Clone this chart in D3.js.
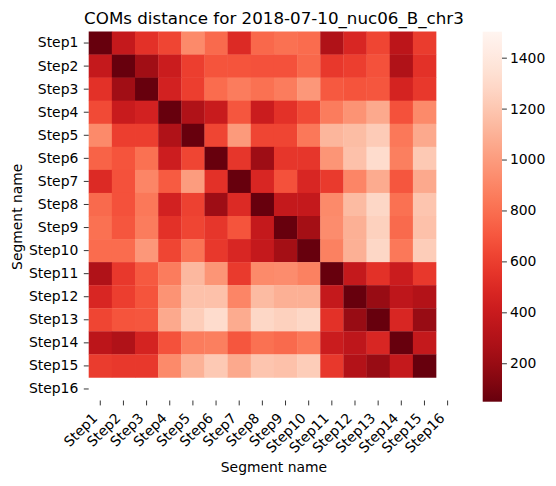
<html>
<head>
<script src="https://d3js.org/d3.v7.min.js"></script>
<style>
  body { margin: 0; background: #fff; }
  text { font-family: "DejaVu Sans", sans-serif; fill: #000; }
  .axis line { stroke: #000; stroke-width: 0.8; }
  .axis .domain { stroke: none; }
</style>
</head>
<body>
<svg id="heatmap" width="556" height="486"></svg>
<script>
// segment names (Step16 has no values)
const steps = ["Step1","Step2","Step3","Step4","Step5","Step6","Step7","Step8",
               "Step9","Step10","Step11","Step12","Step13","Step14","Step15","Step16"];

// COM distances, one row per segment
const step1  = [49,380,540,630,920,780,500,770,810,790,290,480,630,340,590,null];
const step2  = [380,49,231,410,600,690,690,680,680,770,570,600,680,290,540,null];
const step3  = [540,231,49,450,600,790,860,810,860,980,710,690,700,460,570,null];
const step4  = [650,400,450,49,290,400,700,410,540,650,860,960,1060,680,920,null];
const step5  = [920,600,600,290,49,630,990,630,630,840,1120,1150,1220,840,1060,null];
const step6  = [750,690,810,420,630,49,560,220,560,560,970,1170,1310,870,1210,null];
const step7  = [500,680,900,720,1000,540,49,480,680,480,580,900,1070,700,1060,null];
const step8  = [780,680,840,450,610,220,500,49,380,380,920,1140,1280,810,1190,null];
const step9  = [810,700,860,540,630,560,690,380,49,240,930,1090,1250,780,1170,null];
const step10 = [790,790,980,630,820,570,480,380,240,49,880,1090,1280,840,1230,null];
const step11 = [290,570,710,860,1130,970,580,920,930,880,49,380,540,410,570,null];
const step12 = [480,600,690,960,1170,1170,900,1140,1090,1090,380,49,200,350,300,null];
const step13 = [630,690,700,1060,1230,1310,1070,1280,1250,1280,540,200,49,480,200,null];
const step14 = [340,290,460,680,860,870,700,810,780,840,410,350,480,49,380,null];
const step15 = [590,570,570,920,1100,1210,1060,1190,1170,1230,570,300,200,380,49,null];
const step16 = [null,null,null,null,null,null,null,null,null,null,null,null,null,null,null,null];

const matrix = [step1,step2,step3,step4,step5,step6,step7,step8,
                step9,step10,step11,step12,step13,step14,step15,step16];

// colour bar range and ticks
const colorMin = 49, colorMax = 1502;
const cbarTicks = [200, 400, 600, 800, 1000, 1200, 1400];

const svg = d3.select("svg#heatmap");
const margin = { top: 31.5, left: 88.7 };
const size = 370.5;

const cells = [];
matrix.forEach((row, i) => row.forEach((v, j) => {
    if (v !== null) cells.push({ row: steps[i], col: steps[j], value: v });
}));

const xScale = d3.scaleBand().domain(steps).range([0, size]);
const yScale = d3.scaleBand().domain(steps).range([0, size - 1.5]);
const colorScale = d3.scaleSequential(d3.interpolateReds).domain([colorMax, colorMin]);

let chartArea = svg.append("g").attr("transform", `translate(${margin.left},${margin.top})`);

chartArea.selectAll("rect.cell")
    .data(cells)
    .join("rect")
    .attr("class", "cell")
    .attr("x", d => xScale(d.col))
    .attr("y", d => yScale(d.row))
    .attr("width", xScale.bandwidth() + 0.3)
    .attr("height", yScale.bandwidth() + 0.3)
    .attr("fill", d => colorScale(d.value));

// axes
let leftAxis = d3.axisLeft(yScale).tickSize(4.9).tickPadding(5.5);
let yAxis = chartArea.append("g").attr("class", "axis").call(leftAxis);
yAxis.selectAll("text").style("font-size", "13.9px");

let bottomAxis = d3.axisBottom(xScale).tickSize(4.9).tickFormat("");
let xAxis = chartArea.append("g").attr("class", "axis")
    .attr("transform", `translate(0,${size - 1.5})`)
    .call(bottomAxis);

xAxis.selectAll("g.tick")
    .append("text")
    .attr("text-anchor", "end")
    .attr("transform", "translate(-2,18.5) rotate(-45)")
    .style("font-size", "13.9px")
    .text(d => d);

// axis titles
svg.append("text")
    .attr("x", margin.left + size / 2)
    .attr("y", 472)
    .attr("text-anchor", "middle")
    .style("font-size", "13.9px")
    .text("Segment name");

svg.append("text")
    .attr("transform", `translate(22,${margin.top + size / 2}) rotate(-90)`)
    .attr("text-anchor", "middle")
    .style("font-size", "13.9px")
    .text("Segment name");

svg.append("text")
    .attr("x", margin.left + size / 2)
    .attr("y", 24)
    .attr("text-anchor", "middle")
    .style("font-size", "16.7px")
    .text("COMs distance for 2018-07-10_nuc06_B_chr3");

// colour bar
const cbar = { x: 482.7, y: 31.7, w: 19.3, h: 370 };
const cbarScale = d3.scaleLinear().domain([colorMin, colorMax]).range([cbar.h, 0]);

const grad = svg.append("defs").append("linearGradient")
    .attr("id", "cbarGrad")
    .attr("x1", 0).attr("y1", 1).attr("x2", 0).attr("y2", 0);
grad.selectAll("stop")
    .data(d3.range(0, 1.0001, 0.05))
    .join("stop")
    .attr("offset", t => t)
    .attr("stop-color", t => colorScale(colorMin + t * (colorMax - colorMin)));

let cbarG = svg.append("g").attr("transform", `translate(${cbar.x},${cbar.y})`);
cbarG.append("rect")
    .attr("width", cbar.w)
    .attr("height", cbar.h)
    .attr("fill", "url(#cbarGrad)");

let cbarAxis = cbarG.append("g").attr("class", "axis")
    .attr("transform", `translate(${cbar.w},0)`)
    .call(d3.axisRight(cbarScale).tickValues(cbarTicks).tickFormat(d3.format("d"))
        .tickSize(4.9).tickPadding(3));
cbarAxis.selectAll("text").style("font-size", "13.9px");
</script>
</body>
</html>
